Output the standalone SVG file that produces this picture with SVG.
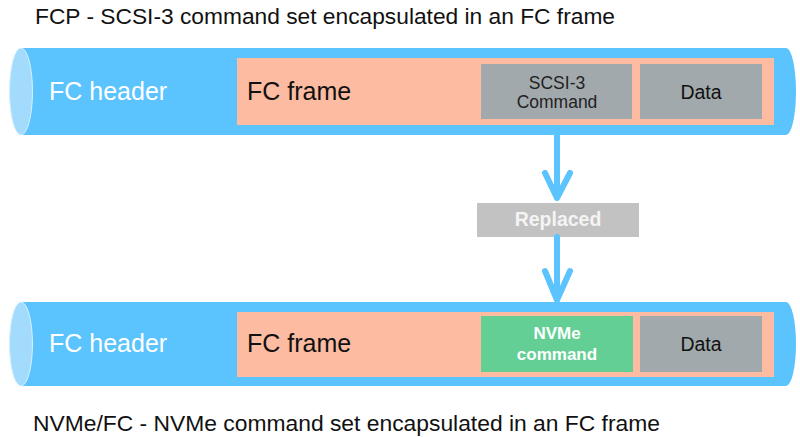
<svg xmlns="http://www.w3.org/2000/svg" width="800" height="437" viewBox="0 0 800 437">
<style>
text{font-family:"Liberation Sans",Arial,sans-serif}
.cap{fill:#5bc3fd}
.end{fill:#a3dbfd;stroke:#d8f0ff;stroke-width:1}
.frame{fill:#fdbba1}
.gray{fill:#a2a9ad}
.green{fill:#64cf95}
.big{font-size:25px}
.wh{fill:#ffffff}
.bk{fill:#111111}
.mid{text-anchor:middle}
.conn{stroke:#5bc3fd;stroke-width:6;fill:none;stroke-linecap:round;stroke-linejoin:round}
</style>
<rect width="800" height="437" fill="#ffffff"/>
<text x="35" y="24" font-size="22" fill="#111" textLength="580" lengthAdjust="spacingAndGlyphs">FCP - SCSI-3 command set encapsulated in an FC frame</text>
<g id="top-frame">
<path class="cap" d="M21,48 H786 A10,43.5 0 0 1 786,135 H21 Z"/>
<ellipse class="end" cx="21" cy="91.5" rx="11.5" ry="43.5"/>
<text class="big wh" x="49" y="100">FC header</text>
<rect class="frame" x="237" y="58" width="537" height="67"/>
<text class="big bk" x="247" y="100">FC frame</text>
</g>
<g id="scsi-cmd">
<rect class="gray" x="481" y="64" width="151" height="55"/>
<text class="mid" x="557" y="89" font-size="17.5" fill="#222">SCSI-3</text>
<text class="mid" x="557" y="108" font-size="17.5" fill="#222">Command</text>
</g>
<g id="top-data">
<rect class="gray" x="640" y="64" width="122" height="55"/>
<text class="mid" x="701" y="99" font-size="19.5" fill="#111">Data</text>
</g>
<g id="replaced">
<rect x="477" y="203" width="162" height="34" fill="#c2c2c2"/>
<text class="mid" x="558" y="226" font-size="19.5" font-weight="bold" fill="#f4f4f4">Replaced</text>
</g>
<g id="bottom-frame">
<path class="cap" d="M21,302 H786 A10,42 0 0 1 786,386 H21 Z"/>
<ellipse class="end" cx="21" cy="344" rx="11.5" ry="42"/>
<text class="big wh" x="49" y="352">FC header</text>
<rect class="frame" x="237" y="312" width="537" height="65"/>
<text class="big bk" x="247" y="352">FC frame</text>
</g>
<g id="nvme-cmd">
<rect class="green" x="481" y="316" width="152" height="56"/>
<text class="mid" x="557" y="339" font-size="17" font-weight="bold" fill="#fff">NVMe</text>
<text class="mid" x="557" y="360" font-size="17" font-weight="bold" fill="#fff">command</text>
</g>
<g id="bottom-data">
<rect class="gray" x="640" y="316" width="122" height="56"/>
<text class="mid" x="701" y="351" font-size="19.5" fill="#111">Data</text>
</g>
<g id="connectors">
<path class="conn" d="M557,135 V198 M545,173 L557,198 L570,173"/>
<path class="conn" d="M557,237 V300 M545,271 L557,300 L570,271"/>
</g>
<text x="33" y="431" font-size="22" fill="#111" textLength="627" lengthAdjust="spacingAndGlyphs">NVMe/FC - NVMe command set encapsulated in an FC frame</text>
</svg>
